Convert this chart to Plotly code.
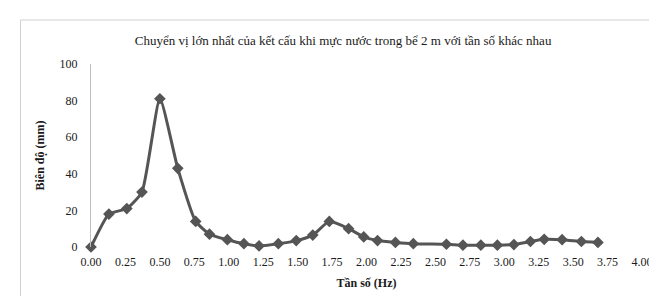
import plotly.graph_objects as go

freq = [0, 0.13, 0.26, 0.37, 0.50, 0.63, 0.76, 0.86, 0.99, 1.11,
        1.22, 1.36, 1.49, 1.61, 1.73, 1.87, 1.98, 2.08, 2.21, 2.34,
        2.58, 2.70, 2.83, 2.95, 3.07, 3.19, 3.29, 3.42, 3.56, 3.68]
amp = [0, 18, 21, 30, 81, 43, 14, 7, 4, 1.8,
       0.6, 1.8, 3.5, 6.5, 14, 10, 5.5, 3.5, 2.5, 1.8,
       1.5, 1.0, 1.0, 1.0, 1.3, 3.0, 4.2, 4.0, 3.0, 2.5]

title_text = "Chuyển vị lớn nhất của kết cấu khi mực nước trong bể 2 m với tần số khác nhau"
x_title = "Tần số (Hz)"
y_title = "Biên độ (mm)"

color = "#555555"
text_color = "#1a1a1a"
font_family = "Liberation Serif"

L, R, T, B = 83, 19, 56, 57
W, H = 657, 296
pw, ph = W - L - R, H - T - B

fig = go.Figure()
fig.add_trace(go.Scatter(
    x=freq, y=amp, mode="lines+markers",
    line=dict(color=color, width=3, shape="spline", smoothing=0.5),
    marker=dict(symbol="diamond", size=9, color=color),
    cliponaxis=False, showlegend=False,
))

fig.update_layout(
    width=W, height=H,
    margin=dict(l=L, r=R, t=T, b=B),
    paper_bgcolor="white", plot_bgcolor="white",
    font=dict(family=font_family, size=12, color=text_color),
    title=dict(text=title_text, x=0.51, xanchor="center", y=1 - 32 / H, yanchor="middle",
               font=dict(family=font_family, size=13, color=text_color)),
    xaxis=dict(range=[0, 4], dtick=0.25, tick0=0, tickformat=".2f",
               showgrid=False, zeroline=False, showline=False, ticks="",
               ticklabelstandoff=6,
               tickfont=dict(size=12),
               title=dict(text="<b>" + x_title + "</b>", standoff=10,
                          font=dict(size=12))),
    yaxis=dict(range=[0, 100], dtick=20, showgrid=False, zeroline=False,
               showline=True, linecolor="#bfbfbf", linewidth=1, ticks="",
               ticklabelstandoff=10,
               tickfont=dict(size=12),
               title=dict(text="<b>" + y_title + "</b>", standoff=12,
                          font=dict(size=12))),
    shapes=[dict(type="rect", xref="paper", yref="paper",
                 x0=(12 - L) / pw, x1=(680 - L) / pw,
                 y0=(H - B - 310) / ph, y1=(H - B - 12) / ph,
                 line=dict(color="#d0d0d0", width=1), layer="below")],
)

fig.write_html("out.html")
